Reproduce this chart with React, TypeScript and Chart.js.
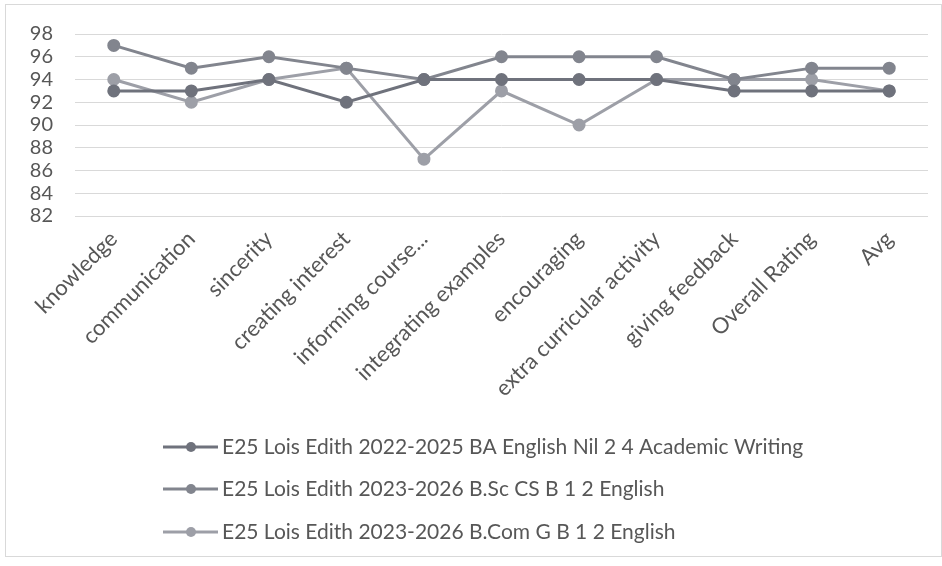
import React, { useEffect, useRef } from "react";
import { Chart, registerables } from "chart.js";

Chart.register(...registerables);

const categories = [
  "knowledge",
  "communication",
  "sincerity",
  "creating interest",
  "informing course...",
  "integrating examples",
  "encouraging",
  "extra curricular activity",
  "giving feedback",
  "Overall Rating",
  "Avg",
];

const seriesNames = [
  "E25 Lois Edith 2022-2025 BA English Nil 2 4 Academic Writing",
  "E25 Lois Edith 2023-2026 B.Sc CS B 1 2 English",
  "E25 Lois Edith 2023-2026 B.Com G B 1 2 English",
];

const seriesBA = [93, 93, 94, 92, 94, 94, 94, 94, 93, 93, 93];
const seriesBSc = [97, 95, 96, 95, 94, 96, 96, 96, 94, 95, 95];
const seriesBCom = [94, 92, 94, 95, 87, 93, 90, 94, 94, 94, 93];

const yMin = 82;
const yMax = 98;
const yStep = 2;

const seriesColors = ["#6f727c", "#82858e", "#9d9fa7"];
const FONT = "Lato";
const TEXT = "#575757";

const borderPlugin = {
  id: "frameBorder",
  beforeDraw(chart: any) {
    const ctx = chart.ctx;
    ctx.save();
    ctx.fillStyle = "#ffffff";
    ctx.fillRect(0, 0, chart.width, chart.height);
    ctx.strokeStyle = "#d9d9d9";
    ctx.lineWidth = 1;
    ctx.strokeRect(5.5, 4.5, chart.width - 6, chart.height - 14);
    ctx.restore();
  },
};

const legendPlugin = {
  id: "stackedLegend",
  afterDraw(chart: any) {
    const ctx = chart.ctx;
    const rowYs = [447, 489, 532];
    ctx.save();
    chart.data.datasets.forEach((ds: any, i: number) => {
      const y = rowYs[i];
      ctx.strokeStyle = ds.borderColor;
      ctx.lineWidth = 3;
      ctx.beginPath();
      ctx.moveTo(163, y);
      ctx.lineTo(218, y);
      ctx.stroke();
      ctx.fillStyle = ds.borderColor;
      ctx.beginPath();
      ctx.arc(191, y, 5, 0, Math.PI * 2);
      ctx.fill();
      ctx.fillStyle = TEXT;
      ctx.font = `21px ${FONT}`;
      ctx.textBaseline = "middle";
      ctx.textAlign = "left";
      ctx.fillText(ds.label, 222, y);
    });
    ctx.restore();
  },
};

export default function App() {
  const canvasRef = useRef<HTMLCanvasElement | null>(null);

  useEffect(() => {
    if (!canvasRef.current) return;
    const values = [seriesBA, seriesBSc, seriesBCom];
    const chart = new Chart(canvasRef.current, {
      type: "line",
      data: {
        labels: categories,
        datasets: values.map((v, i) => ({
          label: seriesNames[i],
          data: v,
          borderColor: seriesColors[i],
          backgroundColor: seriesColors[i],
          pointBackgroundColor: seriesColors[i],
          pointBorderColor: seriesColors[i],
          borderWidth: 3,
          pointRadius: 5,
          tension: 0,
          fill: false,
        })),
      },
      options: {
        responsive: false,
        animation: false,
        layout: { padding: { left: 30, right: 14, top: 34, bottom: 146 } },
        plugins: {
          legend: { display: false },
          tooltip: { enabled: false },
        },
        scales: {
          x: {
            offset: true,
            grid: { display: false, drawTicks: false },
            border: { display: false },
            ticks: {
              minRotation: 45,
              maxRotation: 45,
              autoSkip: false,
              padding: 10,
              color: TEXT,
              font: { family: FONT, size: 22 },
            },
            afterFit(s: any) {
              s.height = 204;
            },
          },
          y: {
            min: yMin,
            max: yMax,
            grid: { color: "#d9d9d9", lineWidth: 1, drawTicks: false },
            border: { display: false },
            ticks: {
              stepSize: yStep,
              autoSkip: false,
              padding: 22,
              color: TEXT,
              font: { family: FONT, size: 20 },
            },
            afterFit(s: any) {
              s.width = 45;
            },
          },
        },
      },
      plugins: [borderPlugin, legendPlugin],
    });
    return () => chart.destroy();
  }, []);

  return (
    <div style={{ position: "absolute", left: 0, top: 0, width: 942, height: 566 }}>
      <canvas ref={canvasRef} width={942} height={566} />
    </div>
  );
}
